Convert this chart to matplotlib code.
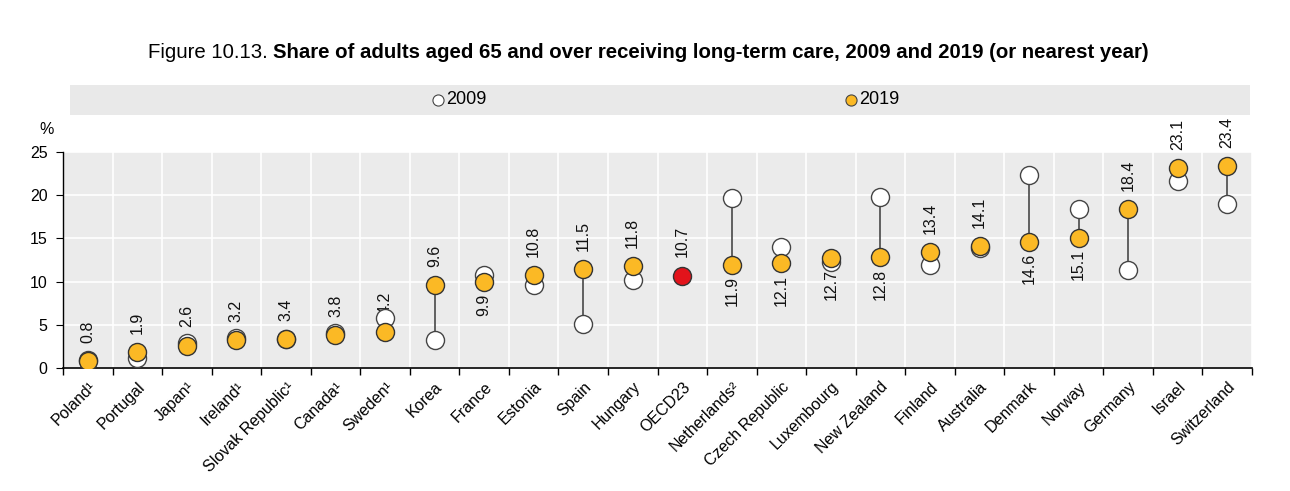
import matplotlib
matplotlib.use("Agg")
import matplotlib.pyplot as plt
import numpy as np
from matplotlib.patches import Rectangle
from matplotlib.lines import Line2D

plt.rcParams['font.family'] = ['Liberation Sans', 'DejaVu Sans']

categories = ["Poland¹", "Portugal", "Japan¹", "Ireland¹", "Slovak Republic¹", "Canada¹",
              "Sweden¹", "Korea", "France", "Estonia", "Spain", "Hungary", "OECD23",
              "Netherlands²", "Czech Republic", "Luxembourg", "New Zealand", "Finland",
              "Australia", "Denmark", "Norway", "Germany", "Israel", "Switzerland"]
v2019 = [0.8, 1.9, 2.6, 3.2, 3.4, 3.8, 4.2, 9.6, 9.9, 10.8, 11.5, 11.8, 10.7,
         11.9, 12.1, 12.7, 12.8, 13.4, 14.1, 14.6, 15.1, 18.4, 23.1, 23.4]
v2009 = [0.9, 1.2, 2.9, 3.5, 3.3, 4.1, 5.8, 3.2, 10.8, 9.6, 5.1, 10.2, None,
         19.7, 14.0, 12.3, 19.8, 11.9, 13.9, 22.3, 18.4, 11.3, 21.7, 19.0]
label_pos = ["above"] * 8 + ["below"] + ["above"] * 4 + ["below"] * 4 + ["above"] * 2 + \
            ["below"] * 2 + ["above"] * 3
highlight = "OECD23"

C19 = "#fbb925"
CRED = "#e2131b"
BG = "#ebebeb"

fig = plt.figure(figsize=(12.9, 4.91), dpi=100)
ax = fig.add_axes([63/1290, 1-368/491, (1252-63)/1290, (368-152)/491])
ax.set_facecolor(BG)

n = len(categories)
x = np.arange(n)

for i in range(n):
    if v2009[i] is not None:
        ax.plot([x[i], x[i]], [v2009[i], v2019[i]], color="#555555", lw=1.3, zorder=2)

for i in range(n):
    if v2009[i] is not None:
        ax.plot(x[i], v2009[i], 'o', ms=13, mfc="white", mec="#444444", mew=1.0, zorder=4)
for i in range(n):
    col = CRED if categories[i] == highlight else C19
    ax.plot(x[i], v2019[i], 'o', ms=13, mfc=col, mec="#333333", mew=1.0, zorder=5)

for i in range(n):
    if label_pos[i] == "above":
        ax.annotate(f"{v2019[i]:.1f}", (x[i], v2019[i]), xytext=(0, 13), textcoords="offset points",
                    rotation=90, ha="center", va="bottom", fontsize=11.5, color="#111111", zorder=3)
    else:
        ax.annotate(f"{v2019[i]:.1f}", (x[i], v2019[i]), xytext=(0, -8), textcoords="offset points",
                    rotation=90, ha="center", va="top", fontsize=11.5, color="#111111", zorder=3)

ax.set_xlim(-0.5, n - 0.5)
ax.set_ylim(0, 25)
ax.set_yticks([0, 5, 10, 15, 20, 25])
ax.set_xticks(x)
ax.set_xticklabels(categories, rotation=45, ha="right", rotation_mode="anchor", fontsize=11.5)
ax.set_xticks(np.arange(-0.5, n, 1), minor=True)
ax.tick_params(axis="x", which="major", length=0, pad=8)
ax.tick_params(axis="x", which="minor", length=5, direction="out", color="black", width=1)
ax.tick_params(axis="y", which="major", length=5, direction="out", labelsize=11.5, pad=6)
ax.grid(axis="y", which="major", color="white", lw=1.2, zorder=0)
ax.grid(axis="x", which="minor", color="white", lw=1.2, zorder=0)
ax.set_axisbelow(True)
for s in ["top", "right"]:
    ax.spines[s].set_visible(False)
ax.spines["left"].set_color("black")
ax.spines["bottom"].set_color("black")
ax.spines["left"].set_linewidth(1.0)
ax.spines["bottom"].set_linewidth(1.2)

fig.text(47/1290, 1-130/491, "%", fontsize=11.5, ha="center", va="center")

# legend band
fig.patches.append(Rectangle((70/1290, 1-115/491), (1250-70)/1290, 30/491,
                             transform=fig.transFigure, facecolor="#e9e9e9", edgecolor="none"))
fig.lines.append(Line2D([438/1290], [1-100/491], marker='o', ms=8, mfc="white", mec="#444444",
                        mew=0.8, transform=fig.transFigure))
fig.text(446/1290, 1-100/491, "2009", fontsize=13, ha="left", va="center")
fig.lines.append(Line2D([851/1290], [1-100/491], marker='o', ms=8, mfc=C19, mec="#444444",
                        mew=0.8, transform=fig.transFigure))
fig.text(859/1290, 1-100/491, "2019", fontsize=13, ha="left", va="center")

# title
r = fig.canvas.get_renderer()
t1 = fig.text(0, 1-52/491, "Figure 10.13. ", fontsize=14.7, ha="left", va="center")
t2 = fig.text(0, 1-52/491, "Share of adults aged 65 and over receiving long-term care, 2009 and 2019 (or nearest year)",
              fontsize=14.7, fontweight="bold", ha="left", va="center")
w1 = t1.get_window_extent(r).width
w2 = t2.get_window_extent(r).width
start = (648 - (w1 + w2) / 2)
t1.set_x(start / 1290)
t2.set_x((start + w1) / 1290)

fig.savefig("out.png", dpi=100)
